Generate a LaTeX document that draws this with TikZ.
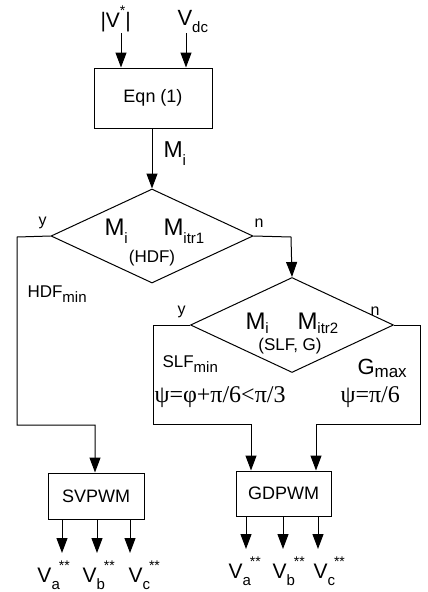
\documentclass[tikz,border=0pt]{standalone}
\usepackage{fontspec}
\setmainfont{Liberation Sans}
\newfontfamily\grk{Liberation Serif}
\usetikzlibrary{arrows.meta,shapes.geometric}
\newcommand{\fs}[1]{\fontsize{#1}{#1}\selectfont}
\newcommand{\dn}[2][0.35em]{\raisebox{-#1}{\fs{15}#2}}
\newcommand{\up}[1]{\raisebox{0.55em}{\fs{14}#1}}
\tikzset{
  arr/.style={-{Triangle[length=15pt,width=11pt]}},
  blk/.style={draw,rectangle,inner sep=0pt,font=\fs{18}},
  dec/.style={draw,diamond,inner sep=0pt},
  lbl/.style={anchor=base west,inner sep=0pt}
}

\begin{document}
\begin{tikzpicture}[x=1pt,y=-1pt,line width=1pt]
\useasboundingbox (0,0) rectangle (428,592);
% inputs and Eqn block
\node[lbl,font=\fs{21}] (vstar) at (100,27) {|V\up{*}|};
\node[lbl,font=\fs{22}] (vdc) at (177,25) {V\dn{dc}};
\node[blk,minimum width=118pt,minimum height=60pt] (eqn) at (153,98) {Eqn (1)};
\coordinate (vin1) at (121,33);
\coordinate (vin2) at (186,33);
\draw[arr] (vin1) -- (vin1 |- eqn.north);
\draw[arr] (vin2) -- (vin2 |- eqn.north);
\node[lbl,font=\fs{23}] (mi) at (163,157) {M\dn{i}};
% first decision
\node[dec,minimum width=202pt,minimum height=94pt] (d1) at (152,236) {};
\draw[arr] (eqn.south -| d1.north) -- (d1.north);
\node[lbl,font=\fs{24}] (d1a) at (104,235) {M\dn{i}};
\node[lbl,font=\fs{24}] (d1b) at (163,235) {M\dn{itr1}};
\node[font=\fs{17},anchor=base] (d1c) at (152,262) {(HDF)};
\node[lbl,font=\fs{16}] (d1y) at (38,225) {y};
\node[lbl,font=\fs{16}] (d1n) at (254,227) {n};
\node[lbl,font=\fs{17}] (hdf) at (27,297) {HDF\dn{min}};
% second decision
\node[dec,minimum width=203pt,minimum height=95pt] (d2) at (292,325) {};
\coordinate (c1) at (291,237);
\draw[arr] (d1.east) -- (c1) -- (d2.north);
\node[lbl,font=\fs{24}] (d2a) at (245,329) {M\dn[0.2em]{i}};
\node[lbl,font=\fs{24}] (d2b) at (297,329) {M\dn[0.2em]{itr2}};
\node[font=\fs{17},anchor=base] (d2c) at (290,350) {(SLF, G)};
\node[lbl,font=\fs{16}] (d2y) at (177,314) {y};
\node[lbl,font=\fs{16}] (d2n) at (370,315) {n};
\node[lbl,font=\fs{17}] (slf) at (162,367) {SLF\dn[0.3em]{min}};
\node[lbl,font=\fs{22}] (gmax) at (357,374) {G\dn[0.15em]{\fs{17}max}};
\node[lbl,font=\fs{24}] (psi1) at (154,402) {\grk ψ=φ+π/6<π/3};
\node[lbl,font=\fs{24}] (psi2) at (340,402) {\grk ψ=π/6};
% PWM blocks
\node[blk,minimum width=96pt,minimum height=46pt] (sv) at (96,496) {SVPWM};
\node[blk,minimum width=95pt,minimum height=45pt] (gd) at (283.5,493.5) {GDPWM};
\coordinate (c2) at (17,237);
\coordinate (c3) at (17,425);
\coordinate (c4) at (95,425);
\draw[arr] (d1.west) -- (c2) -- (c3) -- (c4) -- (c4 |- sv.north);
\coordinate (c5) at (153,325);
\coordinate (c6) at (153,424);
\coordinate (c7) at (251,424);
\draw[arr] (d2.west) -- (c5) -- (c6) -- (c7) -- (c7 |- gd.north);
\coordinate (c8) at (420,325);
\coordinate (c9) at (420,424);
\coordinate (c10) at (316,424);
\draw[arr] (d2.east) -- (c8) -- (c9) -- (c10) -- (c10 |- gd.north);
% outputs
\foreach \x in {62,97,130}
  \draw[arr] (\x,519) -- (\x,553);
\foreach \x in {246,283,318}
  \draw[arr] (\x,516) -- (\x,549);
\node[lbl,font=\fs{21}] (sva) at (37,582) {V\dn{a}\kern-1pt\up{**}};
\node[lbl,font=\fs{21}] (svb) at (82,582) {V\dn{b}\kern-1pt\up{**}};
\node[lbl,font=\fs{21}] (svc) at (128,582) {V\dn{c}\kern-1pt\up{**}};
\node[lbl,font=\fs{21}] (gda) at (228,578) {V\dn{a}\kern-1pt\up{**}};
\node[lbl,font=\fs{21}] (gdb) at (272,578) {V\dn{b}\kern-1pt\up{**}};
\node[lbl,font=\fs{21}] (gdc) at (313,578) {V\dn{c}\kern-1pt\up{**}};
\end{tikzpicture}
\end{document}
